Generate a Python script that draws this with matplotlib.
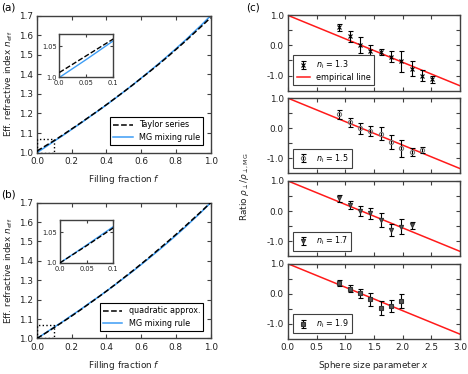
import matplotlib
matplotlib.use("Agg")
import matplotlib.pyplot as plt
from matplotlib.patches import Rectangle

plt.rcParams["font.family"] = "DejaVu Sans"
plt.rcParams["axes.unicode_minus"] = False
plt.rcParams["mathtext.fontset"] = "dejavusans"

# --- datos (a), (b): índice efectivo vs fracción de llenado ---
f = [0.0, 0.05, 0.1, 0.15, 0.2, 0.25, 0.3, 0.35, 0.4, 0.45, 0.5,
     0.55, 0.6, 0.65, 0.7, 0.75, 0.8, 0.85, 0.9, 0.95, 1.0]
n_mg = [1.000, 1.029, 1.059, 1.088, 1.119, 1.149, 1.181, 1.212, 1.244, 1.277, 1.311,
        1.345, 1.381, 1.417, 1.454, 1.492, 1.531, 1.571, 1.613, 1.655, 1.700]
n_taylor = [1.008, 1.035, 1.062, 1.091, 1.121, 1.151, 1.182, 1.213, 1.245, 1.278, 1.311,
            1.345, 1.380, 1.415, 1.451, 1.488, 1.527, 1.566, 1.607, 1.648, 1.690]
n_quad = [1.000, 1.028, 1.057, 1.086, 1.116, 1.147, 1.179, 1.211, 1.244, 1.278, 1.313,
          1.348, 1.384, 1.421, 1.459, 1.497, 1.536, 1.576, 1.617, 1.658, 1.700]

# --- datos (c): razón vs parámetro de tamaño ---
x_emp = [0.0, 3.0]
y_emp = [1.0, -1.34]

x_13 = [0.90, 1.08, 1.26, 1.44, 1.62, 1.80, 1.98, 2.16, 2.34, 2.52]
y_13 = [0.60, 0.30, 0.02, -0.17, -0.22, -0.37, -0.53, -0.78, -1.01, -1.12]
e_13 = [0.11, 0.17, 0.26, 0.20, 0.10, 0.17, 0.35, 0.25, 0.18, 0.12]

x_15 = [0.90, 1.08, 1.26, 1.44, 1.62, 1.80, 1.98, 2.16, 2.34]
y_15 = [0.46, 0.19, 0.00, -0.10, -0.18, -0.46, -0.66, -0.78, -0.73]
e_15 = [0.15, 0.15, 0.18, 0.17, 0.22, 0.22, 0.28, 0.13, 0.10]

x_17 = [0.90, 1.08, 1.26, 1.44, 1.62, 1.80, 1.98, 2.16]
y_17 = [0.42, 0.20, 0.00, -0.08, -0.30, -0.63, -0.52, -0.47]
e_17 = [0.12, 0.14, 0.16, 0.19, 0.24, 0.19, 0.24, 0.12]

x_19 = [0.90, 1.08, 1.26, 1.44, 1.62, 1.80, 1.98]
y_19 = [0.36, 0.17, 0.02, -0.18, -0.47, -0.40, -0.24]
e_19 = [0.11, 0.11, 0.15, 0.21, 0.23, 0.19, 0.23]

AZUL = "#3d9df5"
ROJO = "#ff1a1a"
GRIS = "#404040"
TXT = "#222222"
FS = 6.4


def estilo(ax, fs=FS):
    for s in ax.spines.values():
        s.set_color(GRIS)
        s.set_linewidth(1.0)
    ax.tick_params(direction="in", top=True, right=True, labelsize=fs,
                   colors=GRIS, labelcolor=TXT, length=3, width=0.8, pad=3)
    ax.tick_params(which="minor", direction="in", top=True, right=True,
                   colors=GRIS, length=3, width=0.8)


fig = plt.figure(figsize=(4.68, 3.74), dpi=100)


def panel_izq(pos, pos_in, n_aprox, etiqueta_aprox, letra):
    ax = fig.add_axes(pos)
    ax.plot(f, n_aprox, "--", color="black", lw=1.1, label=etiqueta_aprox, zorder=3)
    ax.plot(f, n_mg, "-", color=AZUL, lw=1.1, label="MG mixing rule", zorder=2)
    ax.add_patch(Rectangle((0, 1.0), 0.1, 0.07, fill=False, ls=":", lw=1.0,
                           ec="black", zorder=4))
    ax.set_xlim(0, 1)
    ax.set_ylim(1.0, 1.7)
    ax.set_xticks([0, 0.2, 0.4, 0.6, 0.8, 1.0])
    ax.set_yticks([1.0, 1.1, 1.2, 1.3, 1.4, 1.5, 1.6, 1.7])
    ax.set_xlabel("Filling fraction $f$", fontsize=FS, labelpad=5, color=TXT)
    ax.set_ylabel(r"Eff. refractive index $n_\mathrm{eff}$", fontsize=FS,
                  color=TXT, labelpad=3)
    estilo(ax)
    leg = ax.legend(loc="lower right", fontsize=5.8, fancybox=False,
                    edgecolor="black", framealpha=1, handlelength=2.4,
                    borderaxespad=0.9, labelspacing=0.45)
    leg.get_frame().set_linewidth(0.8)
    fig.text(0.002, pos[1] + pos[3] + 0.022, letra, fontsize=7.5, va="center")

    ins = fig.add_axes(pos_in)
    ins.plot(f, n_aprox, "--", color="black", lw=1.0, zorder=3)
    ins.plot(f, n_mg, "-", color=AZUL, lw=1.0, zorder=2)
    ins.set_xlim(0, 0.1)
    ins.set_ylim(1.0, 1.07)
    ins.set_xticks([0, 0.05, 0.1], ["0.0", "0.05", "0.1"])
    ins.set_yticks([1.0, 1.05], ["1.0", "1.05"])
    estilo(ins, fs=4.8)
    ins.tick_params(length=2, pad=2)


panel_izq([0.079, 0.592, 0.371, 0.366], [0.127, 0.793, 0.115, 0.116],
          n_taylor, "Taylor series", "(a)")
panel_izq([0.079, 0.095, 0.371, 0.363], [0.128, 0.297, 0.114, 0.115],
          n_quad, "quadratic approx.", "(b)")

# --- (c) ---
series = [
    (x_13, y_13, e_13, "x", "black", "black", "1.3"),
    (x_15, y_15, e_15, "o", "none", "#777777", "1.5"),
    (x_17, y_17, e_17, "v", "#555555", "#333333", "1.7"),
    (x_19, y_19, e_19, "s", "#555555", "#333333", "1.9"),
]
izq, ancho = 0.615, 0.368
alto = 75.3 / 374
paso = 82.8 / 374
arriba = 1 - 15.3 / 374
ejes_c = []
for i, (xs, ys, es, mk, mfc, mec, n) in enumerate(series):
    ax = fig.add_axes([izq, arriba - i * paso - alto, ancho, alto])
    eb = ax.errorbar(xs, ys, yerr=es, fmt=mk, ms=3, mfc=mfc, mec=mec, mew=0.8,
                     ecolor="black", elinewidth=0.8, capsize=1.8, capthick=0.8,
                     zorder=3)
    linea, = ax.plot(x_emp, y_emp, color=ROJO, lw=1.1, zorder=2)
    handles = [eb]
    labels = [rf"$n_\mathrm{{i}}$ = {n}"]
    if i == 0:
        handles.append(linea)
        labels.append("empirical line")
    ax.set_xlim(0, 3.0)
    ax.set_ylim(-1.5, 1.0)
    ax.set_yticks([-1.0, 0.0, 1.0], ["-1.0", "0.0", "1.0"])
    ax.set_yticks([-0.5, 0.5], minor=True)
    ax.set_xticks([0, 0.5, 1.0, 1.5, 2.0, 2.5, 3.0])
    estilo(ax)
    if i < 3:
        ax.tick_params(labelbottom=False)
    leg = ax.legend(handles, labels, loc="lower left", fontsize=5.8, fancybox=False,
                    edgecolor=GRIS, framealpha=1, handlelength=1.6,
                    borderaxespad=0.7, labelspacing=0.2)
    leg.get_frame().set_linewidth(0.8)
    ejes_c.append(ax)

ejes_c[-1].set_xlabel("Sphere size parameter $x$", fontsize=FS, labelpad=5,
                      color=TXT)
fig.text(0.523, 0.5, r"Ratio $\rho_\perp/\rho_{\perp,\mathrm{MG}}$", rotation=90,
         fontsize=FS, va="center", ha="center", color=TXT)
fig.text(0.525, 0.979, "(c)", fontsize=7.5, va="center")

fig.savefig("out.png", dpi=100)
